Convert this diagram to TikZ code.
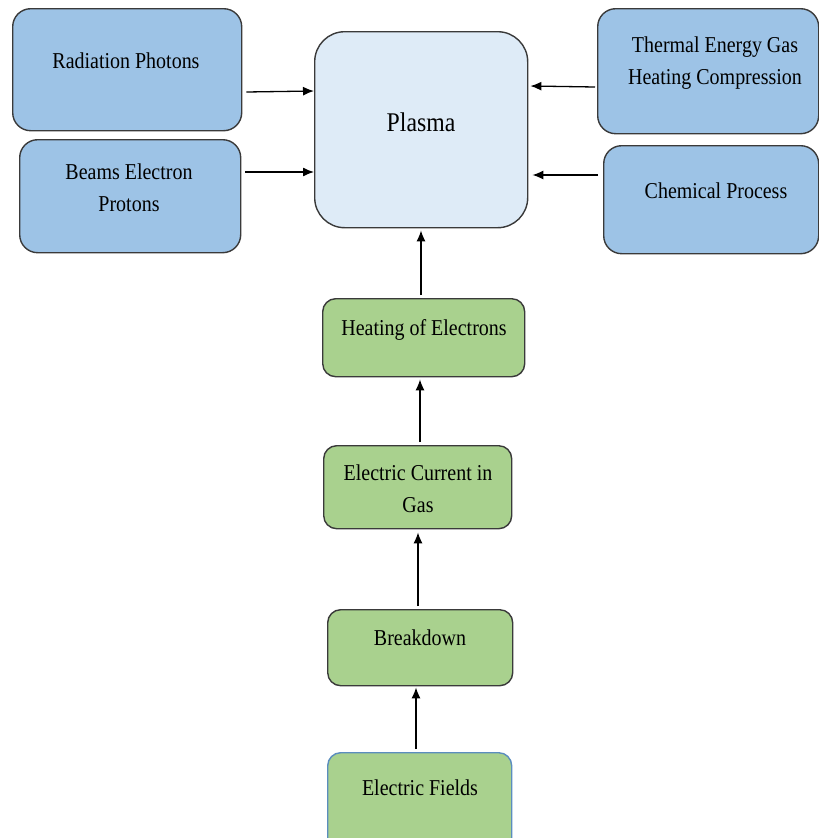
\documentclass[tikz,border=0pt]{standalone}
\usepackage{fontspec}
\setmainfont{Liberation Serif}
\newfontfamily\tnr[FakeStretch=0.88]{Liberation Serif}
\usetikzlibrary{arrows.meta}
\definecolor{bluefill}{HTML}{9DC3E6}
\definecolor{plasmafill}{HTML}{DEEBF7}
\definecolor{greenfill}{HTML}{A9D18E}
\definecolor{edge}{HTML}{3A3A3A}
\definecolor{blueedge}{HTML}{5B8DBE}
\tikzset{
  box/.style={draw=edge, line width=1.4pt, rounded corners=18pt, anchor=north west, inner sep=0pt},
  bluebox/.style={box, fill=bluefill},
  greenbox/.style={box, fill=greenfill, rounded corners=13pt},
  lbl/.style={font=\tnr\fontsize{22.7}{32}\selectfont, align=center, inner sep=0pt, text=black},
  arr/.style={-{Latex[length=11pt,width=9pt]}, line width=1.3pt, black}
}
\begin{document}
\begin{tikzpicture}[x=1pt,y=-1pt]
\useasboundingbox (0,0) rectangle (819,838);
\clip (0,0) rectangle (819,838);
% blue source boxes
\node[bluebox, minimum width=229pt, minimum height=122pt] (rad) at (12,8) {};
\node[bluebox, minimum width=221pt, minimum height=113pt] (beam) at (19,139) {};
\node[bluebox, minimum width=221pt, minimum height=125pt] (therm) at (597,8) {};
\node[bluebox, minimum width=215pt, minimum height=108pt] (chem) at (603,145) {};
% plasma
\node[box, fill=plasmafill, rounded corners=30pt, minimum width=213pt, minimum height=196pt] (plasma) at (314,31) {};
% green chain
\node[greenbox, minimum width=202pt, minimum height=78pt] (heat) at (322,298) {};
\node[greenbox, minimum width=188pt, minimum height=83pt] (curr) at (323,445) {};
\node[greenbox, minimum width=185pt, minimum height=76pt] (brk) at (327,609) {};
\node[greenbox, draw=blueedge, minimum width=184pt, minimum height=100pt] (field) at (327,752) {};
% labels
\node[lbl] (tRad) at (126,61) {Radiation Photons};
\node[lbl] (tBeam) at (129,188) {Beams Electron\\Protons};
\node[lbl] (tTherm) at (715,63) {Thermal Energy Gas\\Heating Compression};
\node[lbl] (tChem) at (716,191) {Chemical Process};
\node[lbl, font=\tnr\fontsize{27}{30}\selectfont] (tPlasma) at (421,122) {Plasma};
\node[lbl] (tHeat) at (424,330) {Heating of Electrons};
\node[lbl] (tCurr) at (418,489) {Electric Current in\\Gas};
\node[lbl] (tBrk) at (420,638) {Breakdown};
\node[lbl] (tField) at (420,788) {Electric Fields};
% arrows
\draw[arr] ([xshift=4pt]rad.east |- 0,92) -- (plasma.west |- 0,91);
\draw[arr] ([xshift=4pt]beam.east |- 0,172) -- (plasma.west |- 0,172);
\draw[arr] ([xshift=-2pt]therm.west |- 0,87) -- ([xshift=2pt]plasma.east |- 0,86);
\draw[arr] ([xshift=-5pt]chem.west |- 0,175) -- ([xshift=4pt]plasma.east |- 0,175);
\draw[arr] ([yshift=3pt]heat.north -| 421,0) -- ([yshift=-2pt]plasma.south -| 421,0);
\draw[arr] ([yshift=3pt]curr.north -| 420,0) -- ([yshift=-2pt]heat.south -| 420,0);
\draw[arr] ([yshift=3pt]brk.north -| 418,0) -- ([yshift=-3pt]curr.south -| 418,0);
\draw[arr] ([yshift=3pt]field.north -| 416,0) -- ([yshift=-1pt]brk.south -| 416,0);
\end{tikzpicture}
\end{document}
